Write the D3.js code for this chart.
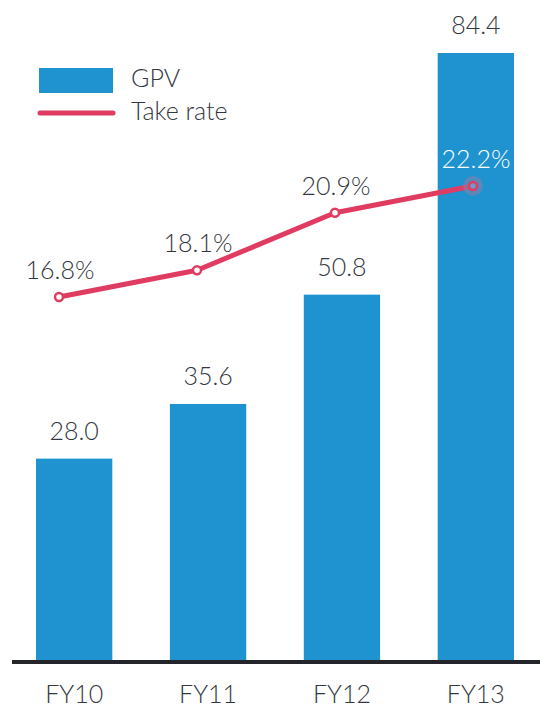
<!DOCTYPE html>
<html><head><meta charset="utf-8">
<script src="https://cdn.jsdelivr.net/npm/d3@7"></script>
<style>body{margin:0;background:#fff}svg{display:block}text{font-family:Lato,"Open Sans",sans-serif;font-weight:300}</style>
</head><body>
<script>
const categories = ["FY10","FY11","FY12","FY13"];
const gpv = [28.0, 35.6, 50.8, 84.4];
const takeRate = [16.8, 18.1, 20.9, 22.2];
const gpvLabels = ["28.0","35.6","50.8","84.4"];
const rateLabels = ["16.8%","18.1%","20.9%","22.2%"];

const W = 540, H = 709;
const blue = "#1E93D0", red = "#E03C62", textC = "#333740";
const FS = 25;
const svg = d3.select("body").append("svg").attr("width", W).attr("height", H);

const x = d3.scaleBand().domain(categories).range([36, 514]).paddingInner(0.43).paddingOuter(0);
const y = d3.scaleLinear().domain([0, 84.4]).range([660, 53]);
const xl = d3.scalePoint().domain(categories).range([59, 473]);
const yl = d3.scaleLinear().domain([16.8, 22.2]).range([297, 186]);

svg.selectAll("rect.bar").data(gpv).join("rect").attr("class","bar")
  .attr("x", (d,i)=>x(categories[i])).attr("width", x.bandwidth())
  .attr("y", d=>y(d)).attr("height", d=>y(0)-y(d)).attr("fill", blue);

svg.selectAll("text.bl").data(gpv).join("text").attr("class","bl")
  .attr("x",(d,i)=>x(categories[i])+x.bandwidth()/2).attr("y", d=>y(d)-19)
  .attr("text-anchor","middle").attr("font-size",FS).attr("fill",textC)
  .text((d,i)=>gpvLabels[i]);

// axis
const axis = svg.append("g").attr("transform","translate(0,662)").call(d3.axisBottom(x).tickSize(0).tickPadding(23));
axis.select(".domain").attr("d","M12,0H540").attr("stroke","#23252b").attr("stroke-width",4);
axis.selectAll("text").attr("font-size",FS).attr("fill",textC).style("font-family","Lato, 'Open Sans', sans-serif").style("font-weight",300);

// line
const line = d3.line().x((d,i)=>xl(categories[i])).y(d=>yl(d));
svg.append("path").datum(takeRate).attr("d", line).attr("fill","none").attr("stroke",red).attr("stroke-width",5).attr("stroke-linejoin","round");
svg.append("circle").attr("cx", xl("FY13")).attr("cy", yl(22.2)).attr("r", 10).attr("fill","#8a7fa6").attr("opacity",0.55);
svg.selectAll("circle.pt").data(takeRate).join("circle").attr("class","pt")
  .attr("cx",(d,i)=>xl(categories[i])).attr("cy", d=>yl(d)).attr("r",4)
  .attr("fill",(d,i)=> i===3 ? "#6a9ad0" : "#fff").attr("stroke",red).attr("stroke-width",2.5);
svg.selectAll("text.rl").data(takeRate).join("text").attr("class","rl")
  .attr("x",(d,i)=>xl(categories[i])+ (i===3?3:1)).attr("y", d=>yl(d)-18)
  .attr("text-anchor","middle").attr("font-size",FS).attr("fill",(d,i)=> i===3 ? "#fff" : textC)
  .text((d,i)=>rateLabels[i]);

// legend
const lg = svg.append("g");
lg.append("rect").attr("x",39).attr("y",68).attr("width",74).attr("height",25).attr("fill",blue);
lg.append("text").attr("x",131).attr("y",87).attr("font-size",FS).attr("fill",textC).text("GPV");
lg.append("line").attr("x1",40).attr("x2",113).attr("y1",113).attr("y2",113).attr("stroke",red).attr("stroke-width",5).attr("stroke-linecap","round");
lg.append("text").attr("x",131).attr("y",120).attr("font-size",FS).attr("fill",textC).text("Take rate");
</script>
</body></html>
